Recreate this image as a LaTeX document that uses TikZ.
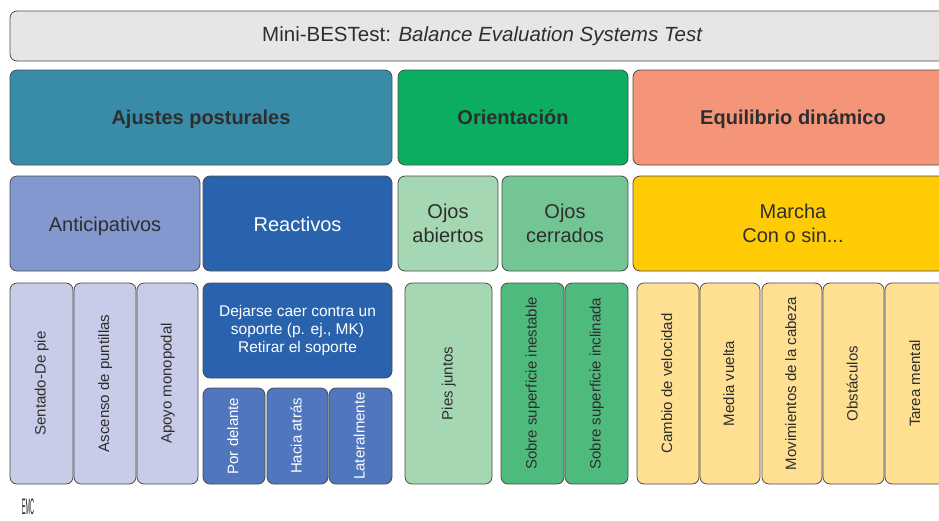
\documentclass[tikz,border=0pt]{standalone}
\usepackage{fontspec}
\usepackage{graphicx}
\setmainfont{Liberation Sans}
\definecolor{txt}{HTML}{2E2E2E}
\definecolor{cTitle}{HTML}{E6E6E6}
\definecolor{cAjustes}{HTML}{388CA8}
\definecolor{cOrient}{HTML}{0BAE60}
\definecolor{cEquil}{HTML}{F4957A}
\definecolor{cAntic}{HTML}{8398CE}
\definecolor{cReact}{HTML}{2A63AD}
\definecolor{cOjosA}{HTML}{A6D7B3}
\definecolor{cOjosC}{HTML}{74C594}
\definecolor{cMarcha}{HTML}{FFCB05}
\definecolor{cAnticItem}{HTML}{C8CCE8}
\definecolor{cReactItem}{HTML}{5077BD}
\definecolor{cSobre}{HTML}{4FBA7E}
\definecolor{cMarchaItem}{HTML}{FFDF91}
\tikzset{
  box/.style={draw=black!70, line width=0.8pt, rounded corners=7pt, inner sep=2pt, align=center, text=txt},
  head/.style={box, font=\fontsize{20}{24}\selectfont\bfseries, text height=16pt, text depth=3pt},
  sub/.style={box, font=\fontsize{20}{24.5}\selectfont},
  vbox/.style={box, rotate=90, font=\fontsize{15}{18}\selectfont, text height=11pt, text depth=3pt},
}
\begin{document}
\begin{tikzpicture}[x=1pt,y=-1pt]
\useasboundingbox (0,0) rectangle (939,520);
\clip (0,0) rectangle (939,520);
% title
\node[box, font=\fontsize{20.5}{24}\selectfont, fill=cTitle, minimum width=945, minimum height=50, text height=15pt, text depth=4pt] (title) at (482.5,36) {Mini-BESTest: \textit{Balance Evaluation Systems Test}};
% row 1
\node[head, fill=cAjustes, minimum width=382, minimum height=95] (ajustes) at (201,117.5) {Ajustes posturales};
\node[head, fill=cOrient, minimum width=230, minimum height=95] (orient) at (513,117.5) {Orientación};
\node[head, fill=cEquil, minimum width=320, minimum height=95] (equil) at (793,117.5) {Equilibrio dinámico};
% row 2
\node[sub, fill=cAntic, minimum width=190, minimum height=95, text height=18pt, text depth=2pt] (antic) at (105,223.5) {Anticipativos};
\node[sub, fill=cReact, text=white, minimum width=189, minimum height=95, text height=18pt, text depth=2pt] (react) at (297.5,223.5) {Reactivos};
\node[sub, fill=cOjosA, minimum width=100, minimum height=95] (ojosA) at (448,223.5) {Ojos\\abiertos};
\node[sub, fill=cOjosC, minimum width=126, minimum height=95] (ojosC) at (565,223.5) {Ojos\\cerrados};
\node[sub, fill=cMarcha, minimum width=320, minimum height=95] (marcha) at (793,223.5) {Marcha\\Con o sin...};
% row 3 - anticipativos
\node[vbox, fill=cAnticItem, minimum width=201, minimum height=63] (sentado) at (41.5,383.5) {Sentado-De pie};
\node[vbox, fill=cAnticItem, minimum width=201, minimum height=62] (ascenso) at (105,383.5) {Ascenso de puntillas};
\node[vbox, fill=cAnticItem, minimum width=201, minimum height=61] (apoyo) at (167.5,383.5) {Apoyo monopodal};
% reactivos
\node[box, fill=cReact, text=white, font=\fontsize{15.5}{18}\selectfont, minimum width=189, minimum height=95] (dejarse) at (297.5,330.5) {Dejarse caer contra un\\soporte (p. ej., MK)\\Retirar el soporte};
\node[vbox, fill=cReactItem, text=white, minimum width=96, minimum height=62] (delante) at (234,436) {Por delante};
\node[vbox, fill=cReactItem, text=white, minimum width=96, minimum height=61] (atras) at (297.5,436) {Hacia atrás};
\node[vbox, fill=cReactItem, text=white, minimum width=96, minimum height=63] (lateral) at (360.5,436) {Lateralmente};
% orientacion
\node[vbox, fill=cOjosA, minimum width=201, minimum height=87] (pies) at (448.5,383.5) {Pies juntos};
\node[vbox, fill=cSobre, minimum width=201, minimum height=63] (inestable) at (532.5,383.5) {Sobre superficie inestable};
\node[vbox, fill=cSobre, minimum width=201, minimum height=63] (inclinada) at (596.5,383.5) {Sobre superficie inclinada};
% marcha
\node[vbox, fill=cMarchaItem, minimum width=201, minimum height=62] (cambio) at (668,383.5) {Cambio de velocidad};
\node[vbox, fill=cMarchaItem, minimum width=201, minimum height=60] (media) at (730,383.5) {Media vuelta};
\node[vbox, fill=cMarchaItem, minimum width=201, minimum height=60] (mov) at (792,383.5) {Movimientos de la cabeza};
\node[vbox, fill=cMarchaItem, minimum width=201, minimum height=61] (obst) at (853.5,383.5) {Obstáculos};
\node[vbox, fill=cMarchaItem, minimum width=201, minimum height=62] (tarea) at (916,383.5) {Tarea mental};
% logo
\node[text=black!85, font=\fontsize{14}{14}\selectfont, inner sep=0pt] (logo) at (28,507) {\scalebox{0.4}[1.6]{EMC}};
\end{tikzpicture}
\end{document}
